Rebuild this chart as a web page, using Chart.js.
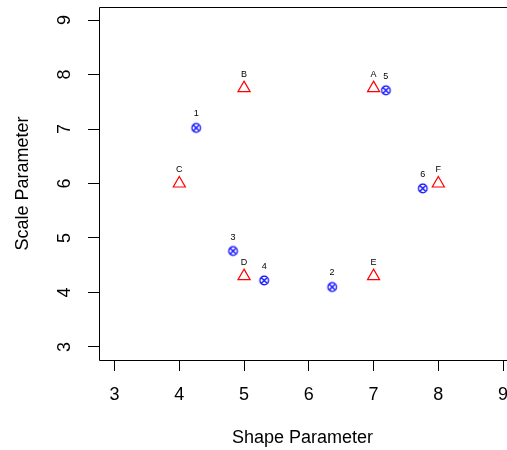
<!DOCTYPE html>
<html><head><meta charset="utf-8">
<script src="https://cdn.jsdelivr.net/npm/chart.js@4"></script>
<style>html,body{margin:0;padding:0;background:#fff;overflow:hidden;} #wrap{width:507px;height:450px;}</style>
</head><body><div id="wrap"><canvas id="c" width="507" height="450"></canvas></div>
<script>
// Data
const triLabels = ['A','B','C','D','E','F'];
const triX = [7, 5, 4, 5, 7, 8];
const triY = [7.75, 7.75, 6.0, 4.3, 4.3, 6.0];
const ptLabels = ['1','2','3','4','5','6'];
const ptX = [4.26, 6.36, 4.83, 5.31, 7.19, 7.76];
const ptY = [7.02, 4.10, 4.76, 4.22, 7.71, 5.91];
const xTicks = [3, 4, 5, 6, 7, 8, 9];
const yTicks = [3, 4, 5, 6, 7, 8, 9];
const xTitle = 'Shape Parameter';
const yTitle = 'Scale Parameter';

const FONT = "'Liberation Sans', Arial, Helvetica, sans-serif";

function makeMarker(){
  const c = document.createElement('canvas'); c.width = 13; c.height = 13;
  const g = c.getContext('2d');
  g.strokeStyle = '#0000ff'; g.lineWidth = 1.2;
  const r = 4.3, m = 6.5;
  g.beginPath(); g.arc(m, m, r, 0, 2*Math.PI); g.stroke();
  const d = r*Math.SQRT1_2;
  g.beginPath();
  g.moveTo(m-d, m-d); g.lineTo(m+d, m+d);
  g.moveTo(m+d, m-d); g.lineTo(m-d, m+d);
  g.stroke();
  return c;
}

const pointLabelPlugin = {
  id: 'pointLabels',
  afterDatasetsDraw(chart){
    const ctx = chart.ctx;
    ctx.save();
    ctx.font = '9px ' + FONT;
    ctx.fillStyle = '#000';
    ctx.textAlign = 'center';
    ctx.textBaseline = 'middle';
    chart.data.datasets.forEach((ds, i) => {
      const meta = chart.getDatasetMeta(i);
      meta.data.forEach((el, j) => {
        ctx.fillText(ds.pointNames[j], el.x, el.y - 14);
      });
    });
    ctx.restore();
  }
};

const axisPlugin = {
  id: 'axisDecor',
  afterDraw(chart){
    const ctx = chart.ctx, a = chart.chartArea;
    ctx.save();
    ctx.strokeStyle = '#000'; ctx.lineWidth = 1;
    const L = Math.round(a.left) + 0.5, T = Math.round(a.top) + 0.5, B = Math.round(a.bottom) + 0.5;
    const R = chart.width + 2;
    ctx.beginPath();
    ctx.moveTo(R, T); ctx.lineTo(L, T); ctx.lineTo(L, B); ctx.lineTo(R, B);
    ctx.stroke();
    ctx.font = '18px ' + FONT;
    ctx.fillStyle = '#000';
    ctx.textAlign = 'center';
    ctx.textBaseline = 'middle';
    const xs = chart.scales.x, ys = chart.scales.y;
    xTicks.forEach(v => ctx.fillText(String(v), xs.getPixelForValue(v), 395));
    yTicks.forEach(v => {
      ctx.save();
      ctx.translate(65, ys.getPixelForValue(v));
      ctx.rotate(-Math.PI/2);
      ctx.fillText(String(v), 0, 0);
      ctx.restore();
    });
    ctx.restore();
  }
};

new Chart(document.getElementById('c'), {
  type: 'scatter',
  data: {
    datasets: [
      {
        data: triX.map((x, i) => ({x: x, y: triY[i]})),
        pointNames: triLabels,
        pointStyle: 'triangle',
        pointRadius: 7,
        pointBorderColor: '#ff0000',
        pointBackgroundColor: 'rgba(0,0,0,0)',
        pointBorderWidth: 1.2,
        showLine: false
      },
      {
        data: ptX.map((x, i) => ({x: x, y: ptY[i]})),
        pointNames: ptLabels,
        pointStyle: makeMarker(),
        pointRadius: 5,
        showLine: false
      }
    ]
  },
  options: {
    responsive: false,
    devicePixelRatio: 1,
    animation: false,
    events: [],
    layout: { autoPadding: false, padding: { left: 0, top: 7, right: 1, bottom: 0 } },
    plugins: { legend: { display: false }, tooltip: { enabled: false } },
    scales: {
      x: {
        type: 'linear', min: 2.76, max: 9.045,
        afterBuildTicks: s => { s.ticks = xTicks.map(v => ({value: v})); },
        afterFit: s => { s.height = 90; },
        ticks: { display: false },
        grid: { display: true, drawOnChartArea: false, drawTicks: true, tickLength: 11, color: '#000', tickColor: '#000', lineWidth: 1 },
        border: { display: false },
        title: { display: true, text: xTitle, color: '#000', font: { size: 18, family: FONT }, padding: { top: 0, bottom: 1 } }
      },
      y: {
        type: 'linear', min: 2.76, max: 9.24,
        afterBuildTicks: s => { s.ticks = yTicks.map(v => ({value: v})); },
        afterFit: s => { s.width = 99; },
        ticks: { display: false },
        grid: { display: true, drawOnChartArea: false, drawTicks: true, tickLength: 11, color: '#000', tickColor: '#000', lineWidth: 1 },
        border: { display: false },
        title: { display: true, text: yTitle, color: '#000', font: { size: 18, family: FONT }, padding: { top: 12, bottom: 0 } }
      }
    }
  },
  plugins: [pointLabelPlugin, axisPlugin]
});
</script>
</body></html>
